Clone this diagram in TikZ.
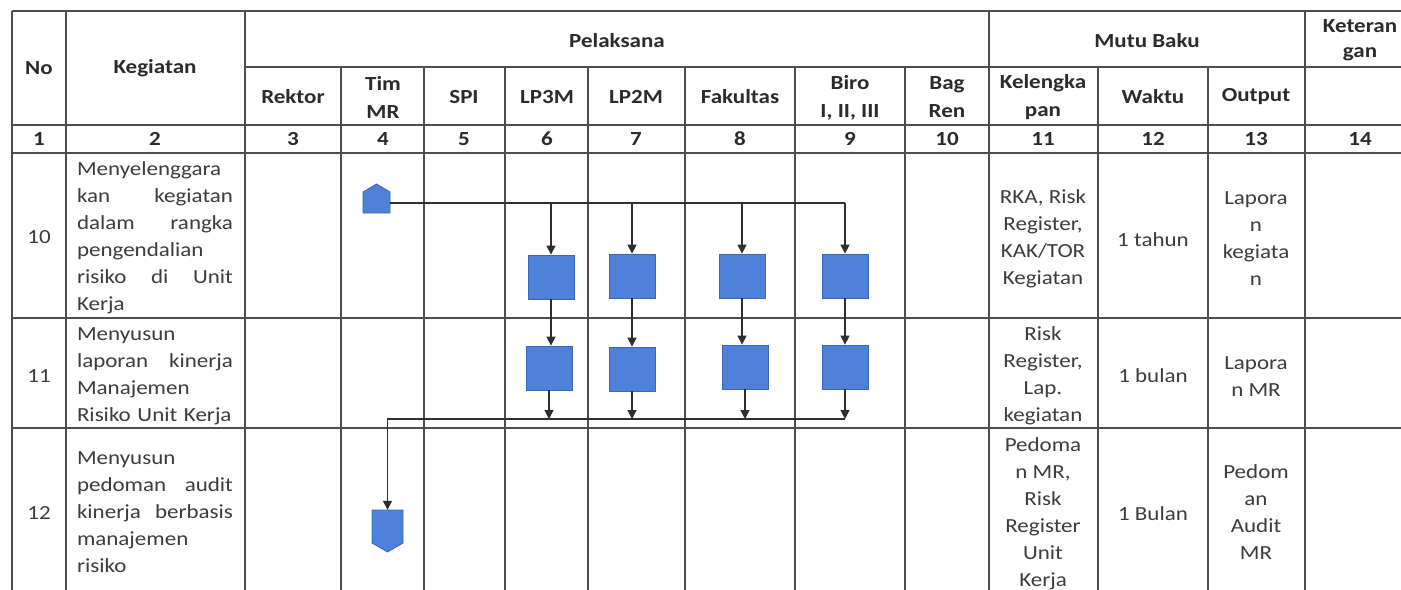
\documentclass[tikz,border=0pt]{standalone}
\usepackage{fontspec}
\setmainfont{Carlito}[FakeStretch=1.15]
\usetikzlibrary{arrows.meta}
\definecolor{gridc}{HTML}{4D4D4D}
\definecolor{txt}{HTML}{3C3C3C}
\definecolor{hdt}{HTML}{2B2B2B}
\definecolor{boxf}{HTML}{4F81DB}
\definecolor{boxd}{HTML}{3B66B8}
\definecolor{arrc}{HTML}{2E2E2E}
\begin{document}
\begin{tikzpicture}[x=1bp,y=-1bp,
  every node/.style={font=\fontsize{20bp}{27bp}\selectfont, inner sep=0pt, text=txt},
  gridline/.style={draw=gridc, line width=1.7bp},
  hd/.style={font=\fontsize{20bp}{28bp}\selectfont\bfseries, text=hdt, align=center},
  cell/.style={align=center},
  keg/.style={text width=156bp, align=left},
  procbox/.style={draw=boxd, fill=boxf, line width=0.8bp, minimum width=46bp, minimum height=44bp},
  termfill/.style={draw=boxd, fill=boxf, line width=0.8bp},
  flow/.style={draw=arrc, line width=1.3bp, -{Triangle[length=9bp,width=9bp]}},
  link/.style={draw=arrc, line width=1.3bp},
]
\useasboundingbox (0,0) rectangle (1401,590);
\fill[white] (0,0) rectangle (1401,590);

% grid
\foreach \y in {11,125,153,318,428} \draw[gridline] (12,\y) -- (1401,\y);
\draw[gridline] (245,67) -- (1401,67);
\foreach \x in {12,66,245,989,1305} \draw[gridline] (\x,11) -- (\x,590);
\foreach \x in {341,424,505,588,685,795,905,1098,1208} \draw[gridline] (\x,67) -- (\x,590);

% header
\node[hd] (hNo) at (39,68) {No};
\node[hd] (hKeg) at (155,68) {Kegiatan};
\node[hd] (hPel) at (617,41) {Pelaksana};
\node[hd] (hMutu) at (1147,41) {Mutu Baku};
\node[hd, font=\fontsize{20bp}{25bp}\selectfont\bfseries] (hKet) at (1360,40.5) {Keteran\\gan};
\node[hd] (hRek) at (293,97) {Rektor};
\node[hd] (hTim) at (383,97.5) {Tim\\MR};
\node[hd] (hSPI) at (464,97) {SPI};
\node[hd] (hLP3) at (547,97) {LP3M};
\node[hd] (hLP2) at (636,97) {LP2M};
\node[hd] (hFak) at (740,97) {Fakultas};
\node[hd] (hBiro) at (850,97.5) {Biro\\I, II, III};
\node[hd] (hBag) at (947,97.5) {Bag\\Ren};
\node[hd] (hKel) at (1043,97.5) {Kelengka\\pan};
\node[hd] (hWak) at (1153,97) {Waktu};
\node[hd] (hOut) at (1256,97) {Output};
% number row
\node[hd] (n1) at (39,139) {1};
\node[hd] (n2) at (155,139) {2};
\node[hd] (n3) at (293,139) {3};
\node[hd] (n4) at (383,139) {4};
\node[hd] (n5) at (464,139) {5};
\node[hd] (n6) at (547,139) {6};
\node[hd] (n7) at (636,139) {7};
\node[hd] (n8) at (740,139) {8};
\node[hd] (n9) at (850,139) {9};
\node[hd] (n10) at (947,139) {10};
\node[hd] (n11) at (1043,139) {11};
\node[hd] (n12) at (1153,139) {12};
\node[hd] (n13) at (1256,139) {13};
\node[hd] (n14) at (1360,139) {14};

% row 10
\node (r10) at (39,237) {10};
\node[keg] (k10) at (155,237.5) {Menyelenggara\\kan\hfill kegiatan\\dalam\hfill rangka\\pengendalian\\risiko\hfill di\hfill Unit\\Kerja};
\node[cell] (l10) at (1043,239) {RKA, Risk\\Register,\\KAK/TOR\\Kegiatan};
\node[cell] (w10) at (1153,240) {1 tahun};
\node[cell] (o10) at (1256,239) {Lapora\\n\\kegiata\\n};
% row 11
\node (r11) at (39,376) {11};
\node[keg] (k11) at (155,376) {Menyusun\\laporan\hfill kinerja\\Manajemen\\Risiko Unit Kerja};
\node[cell] (l11) at (1043,376) {Risk\\Register,\\Lap.\\kegiatan};
\node[cell] (w11) at (1153,376) {1 bulan};
\node[cell] (o11) at (1256,376.5) {Lapora\\n MR};
% row 12
\node (r12) at (39,513) {12};
\node[keg] (k12) at (155,512.5) {Menyusun\\pedoman\hfill audit\\kinerja\hfill berbasis\\manajemen\\risiko};
\node[cell] (l12) at (1043,513.5) {Pedoma\\n MR,\\Risk\\Register\\Unit\\Kerja};
\node[cell] (w12) at (1153,514) {1 Bulan};
\node[cell] (o12) at (1256,512.5) {Pedom\\an\\Audit\\MR};

% flow shapes
\path[termfill] (363,213) -- (363,192) -- (376.5,184) -- (390,192) -- (390,213) -- cycle;
\node[minimum width=27bp, minimum height=29bp] (start) at (376.5,198.5) {};
\path[termfill] (372,510) -- (403,510) -- (403,543) -- (387.5,552) -- (372,543) -- cycle;
\node[minimum width=31bp, minimum height=42bp] (finish) at (387.5,531) {};

\node[procbox] (a10) at (551,277) {};
\node[procbox] (b10) at (632,276) {};
\node[procbox] (c10) at (742,276) {};
\node[procbox] (d10) at (845,276) {};
\node[procbox] (a11) at (549,368) {};
\node[procbox] (b11) at (632,369) {};
\node[procbox] (c11) at (745,367) {};
\node[procbox] (d11) at (845,367) {};

\coordinate (topr) at (845,203);
\coordinate (botr) at (845,419);
\draw[link] (start.east |- topr) -- (topr);
\draw[flow] (topr) -- (d10.north);
\draw[flow] (a10.north |- topr) -- (a10.north);
\draw[flow] (b10.north |- topr) -- (b10.north);
\draw[flow] (c10.north |- topr) -- (c10.north);

\draw[flow] (a10.south) -- (a10.south |- a11.north);
\draw[flow] (b10.south) -- (b11.north);
\draw[flow] (c10.south) -- (c10.south |- c11.north);
\draw[flow] (d10.south) -- (d11.north);

\draw[flow] (a11.south) -- (a11.south |- botr);
\draw[flow] (b11.south) -- (b11.south |- botr);
\draw[flow] (c11.south) -- (c11.south |- botr);
\draw[flow] (d11.south) -- (botr);
\draw[flow] (botr) -- (finish.north |- botr) -- (finish.north);
\end{tikzpicture}
\end{document}
